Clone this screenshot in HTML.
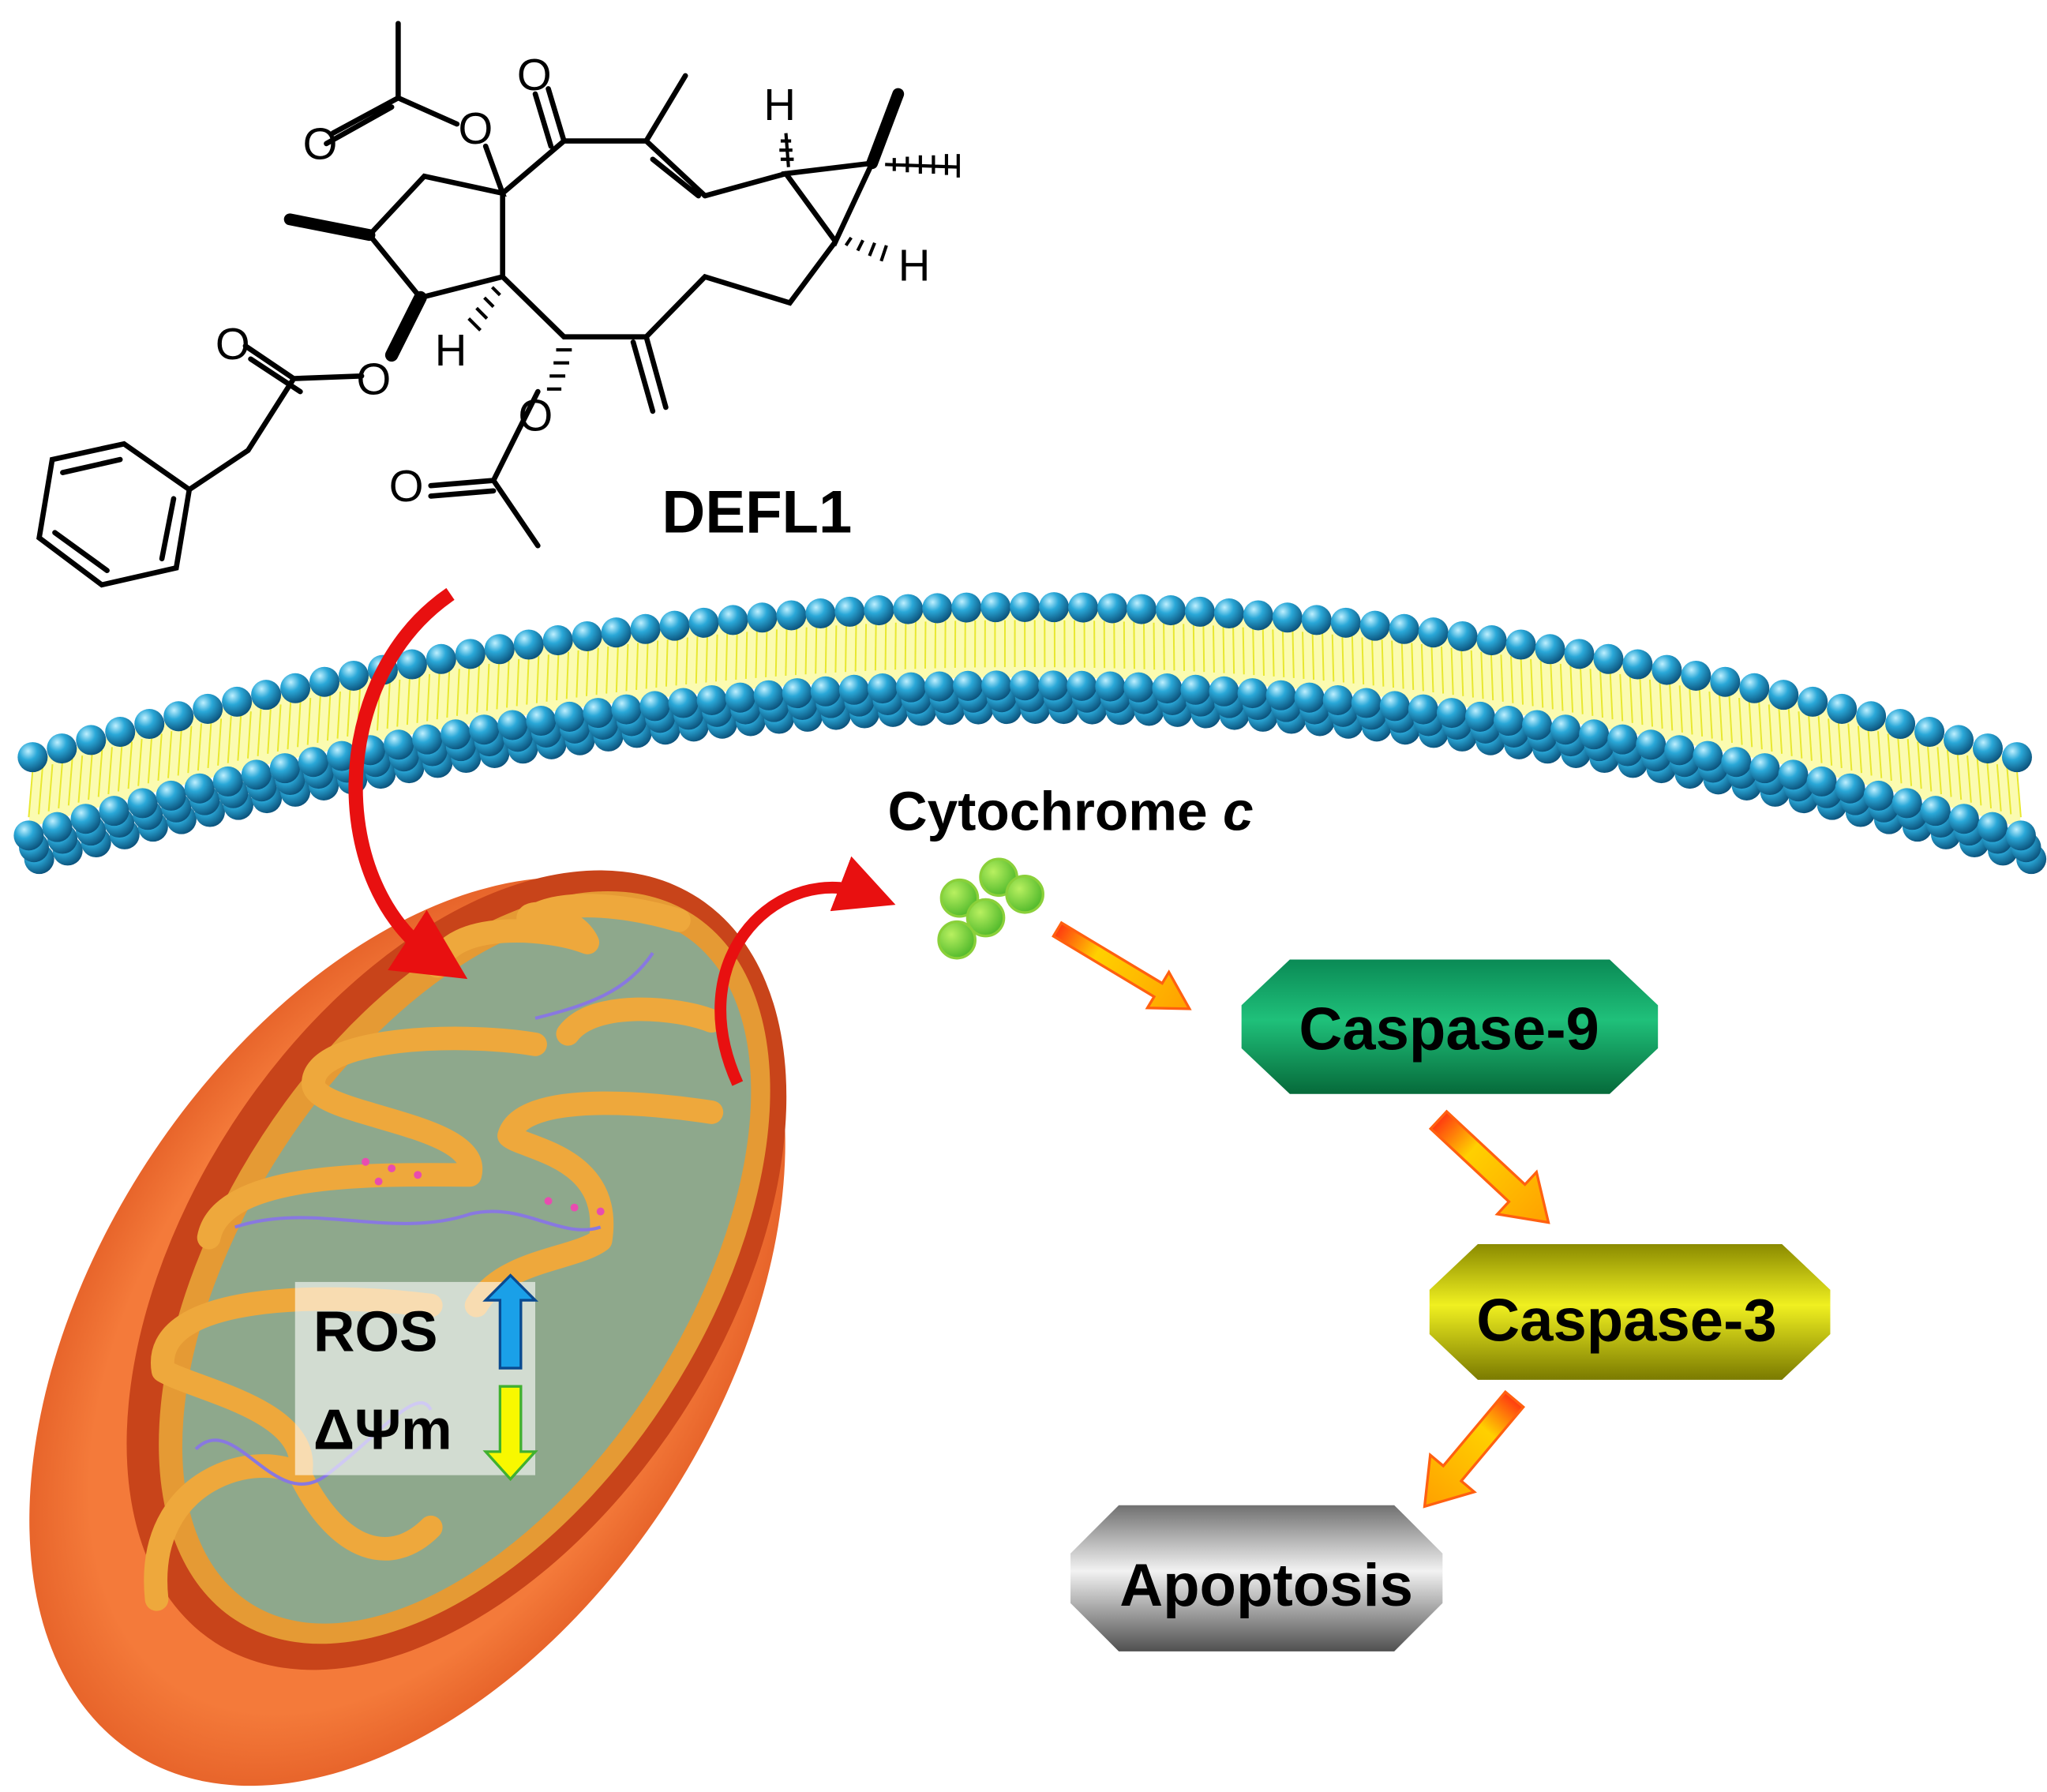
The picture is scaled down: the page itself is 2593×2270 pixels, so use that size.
<!DOCTYPE html>
<html><head><meta charset="utf-8"><style>
html,body{margin:0;padding:0;background:#fff;overflow:hidden;width:2593px;height:2270px;}
svg{display:block;}
text{font-family:"Liberation Sans",Arial,sans-serif;}
</style></head><body>
<svg id="s" width="2593" height="2270" viewBox="0 0 1568 1372.7" xmlns="http://www.w3.org/2000/svg">
<defs>
<radialGradient id="ball" cx="0.35" cy="0.3" r="0.75">
<stop offset="0" stop-color="#bff0ff"/><stop offset="0.4" stop-color="#2aa8d8"/><stop offset="1" stop-color="#0a4f78"/></radialGradient>
<radialGradient id="gb" cx="0.35" cy="0.35" r="0.7"><stop offset="0" stop-color="#b8f060"/><stop offset="1" stop-color="#4fb82a"/></radialGradient>
<linearGradient id="c9" x1="0" y1="0" x2="0" y2="1"><stop offset="0" stop-color="#0a8a55"/><stop offset="0.45" stop-color="#1fc07a"/><stop offset="1" stop-color="#066a3a"/></linearGradient>
<linearGradient id="c3" x1="0" y1="0" x2="0" y2="1"><stop offset="0" stop-color="#8a8a00"/><stop offset="0.45" stop-color="#f0f020"/><stop offset="1" stop-color="#7a7a00"/></linearGradient>
<linearGradient id="ap" x1="0" y1="0" x2="0" y2="1"><stop offset="0" stop-color="#707070"/><stop offset="0.45" stop-color="#f2f2f2"/><stop offset="1" stop-color="#505050"/></linearGradient>
<linearGradient id="oa" x1="0" y1="0" x2="1" y2="0"><stop offset="0" stop-color="#ff3a10"/><stop offset="0.3" stop-color="#ffd000"/><stop offset="1" stop-color="#ffa000"/></linearGradient>
<radialGradient id="mito" cx="0.5" cy="0.5" r="0.6"><stop offset="0.7" stop-color="#f47a3a"/><stop offset="1" stop-color="#d84a18"/></radialGradient>
<marker id="rh" viewBox="0 0 10 10" refX="5" refY="5" markerWidth="5" markerHeight="5" orient="auto"><path d="M0,0 L10,5 L0,10 z" fill="#e81010"/></marker>
</defs>

<!-- chemical structure -->
<g stroke="#000" stroke-width="4" fill="none" stroke-linecap="round">
<path d="M305,18 L305,75 L255,102 M300,82 L250,110 M305,75 L350,95"/>
<path d="M372,112 L385,148 L325,135 L283,180 L322,228 L385,212 L385,148"/>
<path d="M283,180 L222,168" stroke-width="9"/>
<path d="M385,148 L432,108 L495,108 L525,58 M495,108 L540,150 M500,122 L535,150 M540,150 L602,133"/>
<path d="M432,108 L420,68 M422,112 L410,72"/>
<path d="M602,133 L668,125 L640,185 Z"/>
<path d="M668,125 L688,72" stroke-width="9"/>
<path d="M640,185 L605,232 L540,212 L495,258 L432,258 L385,212"/>
<path d="M495,258 L510,312 M485,262 L500,315"/>
<path d="M322,228 L300,272" stroke-width="10"/>
<path d="M277,288 L225,290 L188,265 M230,300 L192,275 M225,290 L190,345 L145,375"/>
<path d="M412,300 L378,368 L330,372 M378,376 L330,380 M378,368 L412,418"/>
<path d="M145,375 L135,435 L78,448 L30,412 L40,352 L95,340 Z M133,382 L124,428 M82,437 L42,408 M48,362 L92,352"/>
</g>
<g stroke="#000" stroke-width="2.5">
<path d="M604,128 L602,102 M598,122 L608,122 M597,115 L607,115 M598,108 L606,108"/>
<path d="M678,126 L735,128 M685,121 L685,131 M695,120 L695,132 M705,119 L705,133 M715,119 L715,133 M725,118 L725,134 M734,118 L734,136"/>
<path d="M648,188 L652,182 M657,192 L661,184 M666,196 L670,186 M675,200 L679,188"/>
<path d="M377,220 L383,226 M371,228 L378,235 M365,236 L373,244 M359,244 L368,253"/>
<path d="M426,268 L438,268 M424,278 L436,278 M421,288 L433,288 M419,298 L430,298"/>
</g>
<g font-size="34" fill="#000">
<text x="396" y="69">O</text><text x="351" y="110">O</text><text x="232" y="122">O</text>
<text x="585" y="92">H</text><text x="688" y="215">H</text><text x="333" y="280">H</text>
<text x="165" y="275">O</text><text x="273" y="302">O</text><text x="397" y="330">O</text><text x="298" y="384">O</text>
</g>
<text x="507" y="408" font-size="46" font-weight="bold">DEFL1</text>

<!-- membrane -->
<g id="mem"></g>

<!-- mitochondrion -->
<g transform="rotate(33 312 1020)">
<ellipse cx="312" cy="1020" rx="238" ry="385" fill="url(#mito)"/>
<ellipse cx="318" cy="960" rx="205" ry="340" fill="#c8441a"/>
<ellipse cx="322" cy="955" rx="185" ry="322" fill="#e59a34"/>
<ellipse cx="324" cy="955" rx="168" ry="305" fill="#8ea88c"/>
</g>
<g fill="none" stroke="#eea83c" stroke-width="18" stroke-linejoin="round" stroke-linecap="round">
<path d="M120,1225 C110,1130 200,1110 230,1130 C240,1080 150,1065 125,1050 C115,990 250,990 330,1000"/>
<path d="M160,948 C170,895 300,900 360,900 C370,860 240,855 240,830 C240,795 350,790 410,800"/>
<path d="M335,740 C345,705 420,710 450,722 C440,700 400,695 405,705"/>
<path d="M405,705 C420,690 470,690 520,705"/>
<path d="M365,1000 C385,965 440,965 460,950 C470,885 400,880 390,870 C400,835 500,845 545,852"/>
<path d="M435,792 C455,765 520,772 545,782"/>
<path d="M230,1130 C260,1190 300,1200 330,1170"/>
</g>
<g fill="none" stroke="#8878e0" stroke-width="2.5">
<path d="M180,940 C240,920 300,950 360,930 C400,920 430,950 460,940"/>
<path d="M150,1110 C180,1080 210,1160 250,1130 C290,1100 320,1060 330,1080"/>
<path d="M410,780 C450,770 480,760 500,730"/>
</g>
<g fill="#e84cb0"><circle cx="280" cy="890" r="3"/><circle cx="300" cy="895" r="3"/><circle cx="320" cy="900" r="3"/><circle cx="290" cy="905" r="3"/><circle cx="420" cy="920" r="3"/><circle cx="440" cy="925" r="3"/><circle cx="460" cy="928" r="3"/></g>
<rect x="226" y="982" width="184" height="148" fill="#fff" fill-opacity="0.6"/>
<text x="240" y="1035" font-size="44" font-weight="bold">ROS</text>
<text x="240" y="1110" font-size="44" font-weight="bold">ΔΨm</text>
<path d="M383,1048 L383,996 L372,996 L391,977 L410,996 L399,996 L399,1048 Z" fill="#1aa0e8" stroke="#0a4a90" stroke-width="2"/>
<path d="M383,1062 L383,1112 L372,1112 L391,1133 L410,1112 L399,1112 L399,1062 Z" fill="#f8f800" stroke="#40b030" stroke-width="2"/>

<!-- red arrows -->
<path d="M345,455 C250,520 250,680 335,735" fill="none" stroke="#e81010" stroke-width="11" marker-end="url(#rh)"/>
<path d="M565,830 C520,730 600,660 665,685" fill="none" stroke="#e81010" stroke-width="9" marker-end="url(#rh)"/>

<text x="680" y="636" font-size="42" font-weight="bold">Cytochrome <tspan font-style="italic">c</tspan></text>
<g stroke="#8ad03a" stroke-width="2"><circle cx="735" cy="688" r="14" fill="url(#gb)"/><circle cx="765" cy="672" r="14" fill="url(#gb)"/><circle cx="785" cy="685" r="14" fill="url(#gb)"/><circle cx="755" cy="703" r="14" fill="url(#gb)"/><circle cx="733" cy="720" r="14" fill="url(#gb)"/></g>

<!-- orange arrows -->
<g fill="url(#oa)" stroke="#ff6010" stroke-width="2">
<path d="M0,-6 L90,-6 L90,-16 L118,0 L90,16 L90,6 L0,6 Z" transform="translate(810,712) rotate(31)"/>
<path d="M0,-9 L82,-9 L82,-22 L115,0 L82,22 L82,9 L0,9 Z" transform="translate(1102,858) rotate(43)"/>
<path d="M0,-9 L74,-9 L74,-22 L107,0 L74,22 L74,9 L0,9 Z" transform="translate(1160,1072) rotate(130)"/>
</g>

<!-- boxes -->
<path d="M988,735 L1233,735 L1270,770 L1270,803 L1233,838 L988,838 L951,803 L951,770 Z" fill="url(#c9)"/>
<text x="1110" y="804" font-size="46" font-weight="bold" text-anchor="middle">Caspase-9</text>
<path d="M1132,953 L1365,953 L1402,988 L1402,1022 L1365,1057 L1132,1057 L1095,1022 L1095,988 Z" fill="url(#c3)"/>
<text x="1246" y="1027" font-size="46" font-weight="bold" text-anchor="middle">Caspase-3</text>
<path d="M857,1153 L1068,1153 L1105,1190 L1105,1228 L1068,1265 L857,1265 L820,1228 L820,1190 Z" fill="url(#ap)"/>
<text x="970" y="1230" font-size="46" font-weight="bold" text-anchor="middle">Apoptosis</text>
</svg>
<script>
(function(){
var g=document.getElementById('mem'),h='';
function q(p0,p1,p2,t){var u=1-t;return [u*u*p0[0]+2*u*t*p1[0]+t*t*p2[0],u*u*p0[1]+2*u*t*p1[1]+t*t*p2[1]];}
var i,t,a,b,c;
for(i=0;i<=200;i++){t=i/200;a=q([25,582],[785,352],[1545,582],t);b=q([22,634],[785,404],[1548,634],t);
h+='<line x1="'+a[0]+'" y1="'+(a[1]+8)+'" x2="'+b[0]+'" y2="'+(b[1]-8)+'" stroke="#e8e830" stroke-width="1.2"/>';}
h='<path d="M25,582 Q785,352 1545,582 L1548,634 Q785,404 22,634 Z" fill="#fbfbb0"/>'+h;
for(var r=2;r>=0;r--){var n=70;for(i=0;i<=n;i++){t=i/n;c=q([22,640+r*9],[785,410+r*9],[1548,640+r*9],t);
h+='<circle cx="'+(c[0]+r*4)+'" cy="'+c[1]+'" r="11.5" fill="url(#ball)"/>';}}
for(i=0;i<=68;i++){t=i/68;c=q([25,580],[785,350],[1545,580],t);h+='<circle cx="'+c[0]+'" cy="'+c[1]+'" r="11.5" fill="url(#ball)"/>';}
g.innerHTML=h;
})();
</script>
</body></html>
